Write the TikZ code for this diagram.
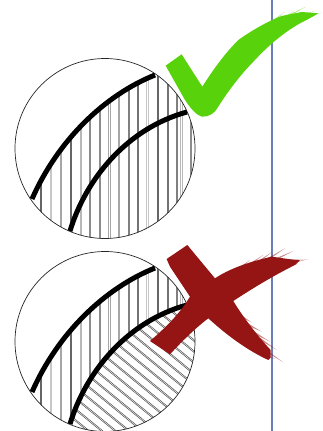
\documentclass[tikz,border=0pt]{standalone}
\definecolor{chk}{HTML}{58D20A}
\definecolor{crs}{HTML}{951414}
\definecolor{vline}{HTML}{6B7DB5}
\tikzset{
 hatchv/.style={line width=0.4pt,black!50},
 hatchd/.style={line width=0.5pt,black!70},
 curve/.style={line width=5pt,black},
 rim/.style={line width=0.7pt,black!85},
 zoomed/.style={x=0.3333pt,y=-0.3333pt},
 fchk/.style={fill=chk,fill opacity=0.5},
 fcrs/.style={fill=crs,fill opacity=0.5}
}
\newcommand{\curveA}{(32,199) .. controls (58,140) and (105,95) .. (155,75)}
\newcommand{\curveB}{(70,231) .. controls (86,178) and (128,128) .. (187,112)}
\newcommand{\vhatch}{%
 \foreach \x/\g/\s in {41/60/0.9,50.7/22/1.6,60.5/35/1.6,70.5/60/0.9,80.5/28/1.6,90/45/1.2,99.5/45/1.2,109/35/1.6,118.5/35/1.6,128.5/50/1.2,138/55/1,147.5/22/1.8,157.5/60/1,167.5/55/1,177/50/1.2,181/28/1.6,191/45/1}{
  \draw[hatchv,black!\g] (\x-\s/2,40) -- (\x-\s/2,250);
  \draw[hatchv,black!\g] (\x+\s/2,40) -- (\x+\s/2,250);
 }}
\begin{document}
\begin{tikzpicture}[x=1pt,y=-1pt]
\useasboundingbox (0,0) rectangle (323,431);
\draw[vline,line width=1.3pt] (272,0) -- (272,431);
% upper circle
\begin{scope}
 \clip (105,148.5) circle (90);
 \clip \curveA -- (300,75) -- (300,300) -- (32,300) -- cycle;
 \vhatch
\end{scope}
\draw[rim] (105,148.5) circle (90);
\draw[curve] \curveA;
\draw[curve] \curveB;
% lower circle
\begin{scope}[yshift=-193pt]
 \begin{scope}
  \clip (105,148.5) circle (90);
  \clip \curveA -- (300,75) -- (300,112) -- (187,112) .. controls (128,128) and (86,178) .. (70,231) -- (32,300) -- cycle;
  \vhatch
 \end{scope}
 \begin{scope}
  \clip (105,148.5) circle (90);
  \clip \curveB -- (300,112) -- (300,300) -- (70,300) -- cycle;
  \foreach \k in {-22,...,8}{
   \draw[hatchd] (60+\k*13.5-1,60) -- ++(220,180);
   \draw[hatchd] (60+\k*13.5+1,60) -- ++(220,180);
  }
 \end{scope}
 \draw[rim] (105,148.5) circle (90);
 \draw[curve] \curveA;
 \draw[curve] \curveB;
\end{scope}
% check
\begin{scope}[zoomed]
\foreach \a/\b/\c/\d in {725/118/785/78,755/100/815/62,790/80/855/35,820/65/885/32,845/52/918/20,870/48/950/32,890/46/966/38,895/58/945/46}{
 \fill[fchk] (\a-5,\b+5) -- (\c,\d) -- (\a+5,\b+7) -- cycle;
}
\fill[chk] (497,197) -- (545,163) -- (607,260) .. controls (645,200) and (680,155) .. (715,120)
 .. controls (750,95) and (800,65) .. (845,48) -- (905,36) -- (955,40) -- (920,60) .. controls (880,78) and (820,120) .. (765,180)
 .. controls (720,225) and (680,280) .. (655,320) .. controls (645,340) and (625,352) .. (605,350)
 .. controls (590,345) and (575,330) .. (555,300) -- cycle;
\end{scope}
% cross
\begin{scope}[zoomed,yshift=-235pt]
\foreach \a/\b/\c/\d in {700/108/750/75,730/95/790/60,760/85/815/52,790/75/855/40,820/70/880/48,845/72/915/72,860/82/925/72,850/92/895/86}{
 \fill[fcrs] (\a-5,\b+5) -- (\c,\d) -- (\a+5,\b+7) -- cycle;
}
\foreach \a/\b/\c/\d in {725/240/755/262,745/265/785/290,765/290/810/320,785/310/830/345,795/340/850/382,780/345/825/372}{
 \fill[fcrs] (\a-6,\b-3) -- (\c,\d) -- (\a-2,\b+7) -- cycle;
}
\fill[crs] (500,72) -- (562,30) -- (645,130) .. controls (690,100) and (750,80) .. (815,65) -- (865,72) -- (900,76)
 -- (885,90) .. controls (820,122) and (750,165) .. (700,198) .. controls (725,240) and (770,300) .. (812,345) -- (812,368)
 -- (805,375) .. controls (740,345) and (680,300) .. (625,250) .. controls (585,280) and (540,325) .. (510,358)
 -- (450,318) .. controls (500,275) and (540,235) .. (570,185) -- (510,95) -- cycle;
\end{scope}
\end{tikzpicture}
\end{document}
